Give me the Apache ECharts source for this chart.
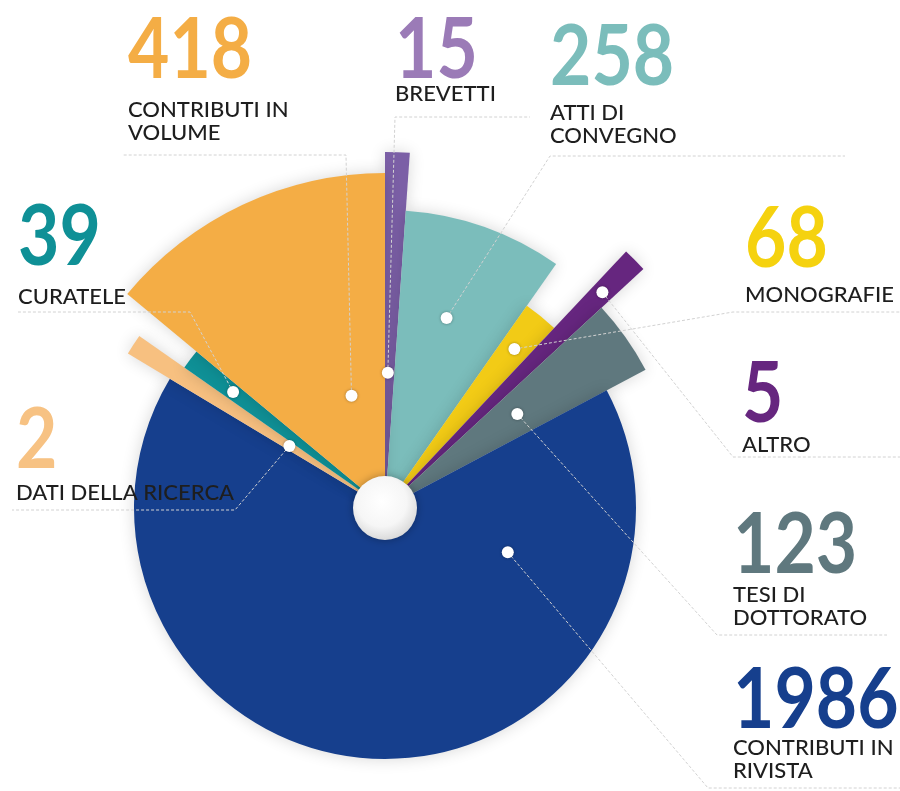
<!DOCTYPE html>
<html>
<head>
<meta charset="utf-8">
<script src="https://cdn.jsdelivr.net/npm/echarts@6/dist/echarts.min.js"></script>
<style>
  html, body { margin: 0; padding: 0; background: #fff; }
  #chart { width: 900px; height: 791px; }
</style>
</head>
<body>
<div id="chart"></div>
<script>
// Data, clockwise from 12 o'clock
const categories = ['BREVETTI', 'ATTI DI\nCONVEGNO', 'MONOGRAFIE', 'ALTRO', 'TESI DI\nDOTTORATO',
  'CONTRIBUTI IN\nRIVISTA', 'DATI DELLA RICERCA', 'CURATELE', 'CONTRIBUTI IN\nVOLUME'];
const counts = [15, 258, 68, 5, 123, 1986, 2, 39, 418];

// Styling / layout only
const sliceColors = ['#7B5FA6', '#7BBDBB', '#F2CB16', '#66267F', '#5F787E', '#163F8D', '#F7C080', '#0F9096', '#F4AD45'];
const numColors = ['#9B7BB7', '#7BBDBB', '#F5D20F', '#66267F', '#5F787E', '#163F8D', '#F7C283', '#0F9096', '#F4AD45'];
const sliceRadius = [356, 298, 247, 352, 295, 251, 300, 245, 335];
const dotAt = [[0.3, 0.38], [0.45, 0.67], [0.5, 0.83], [0.5, 0.87], [0.5, 0.55], [0.2, 0.52], [0.5, 0.38], [0.5, 0.78], [0.67, 0.35]];
// [x, capTop of number, capTop of name]
const labelBox = [[395, 18, 84], [550, 25, 103], [745, 207, 285], [742, 362, 435], [733, 513, 585],
  [733, 668, 738], [16, 408, 483], [18, 205, 287], [128, 18, 100]];
// [elbowX, elbowY, endX]
const leader = [[395, 117, 530], [550, 156, 845], [733, 312, 900], [733, 457, 900], [717, 635, 887],
  [708, 788, 900], [235, 510, 12], [190, 312, 18], [346, 155, 122]];
const center = [385, 508];

const chart = echarts.init(document.getElementById('chart'));

// one pie per slice so every slice can have its own radius; all share the same angles
const series = categories.map((name, i) => ({
  type: 'pie',
  center: center,
  radius: [0, sliceRadius[i]],
  startAngle: 90,
  clockwise: true,
  minAngle: 4,
  avoidLabelOverlap: false,
  silent: true,
  label: { show: false },
  labelLine: { show: false },
  z: 2,
  data: counts.map((v, j) => ({
    value: v,
    name: categories[j],
    itemStyle: j === i
      ? { color: sliceColors[i], shadowBlur: 16, shadowColor: 'rgba(0,0,0,0.16)' }
      : { color: 'transparent' }
  }))
}));

chart.setOption({
  backgroundColor: '#fff',
  animation: false,
  series: series
});

// annotations placed from the pie layout computed by ECharts
const model = chart.getModel();
const graphics = [];
categories.forEach((name, i) => {
  const lay = model.getSeriesByIndex(i).getData().getItemLayout(i);
  const a = lay.startAngle + (lay.endAngle - lay.startAngle) * dotAt[i][0];
  const d = lay.r * dotAt[i][1];
  const px = lay.cx + Math.cos(a) * d;
  const py = lay.cy + Math.sin(a) * d;
  const [ex, ey, endX] = leader[i];

  graphics.push({
    type: 'polyline', z: 10, silent: true,
    shape: { points: [[px, py], [ex, ey], [endX, ey]] },
    style: { stroke: '#d2d2d2', lineWidth: 1, lineDash: [3, 2], fill: null }
  });
  graphics.push({
    type: 'circle', z: 11, silent: true,
    shape: { cx: px, cy: py, r: 6 },
    style: { fill: '#fff', shadowBlur: 3, shadowColor: 'rgba(0,0,0,0.35)' }
  });

  const [lx, numTop, nameTop] = labelBox[i];
  graphics.push({
    type: 'text', z: 12, silent: true,
    x: lx, y: numTop - 9, scaleX: 0.85,
    style: { text: String(counts[i]), font: 'bold 84px Lato', fill: numColors[i], verticalAlign: 'top' }
  });
  graphics.push({
    type: 'text', z: 12, silent: true,
    x: lx, y: nameTop - 2,
    style: { text: name, font: '500 22px Lato', fill: '#1e1e1e', lineHeight: 23, verticalAlign: 'top' }
  });
});

// white ball at the centre
graphics.push({
  type: 'circle', z: 20, silent: true,
  shape: { cx: center[0], cy: center[1], r: 32 },
  style: {
    fill: new echarts.graphic.RadialGradient(0.45, 0.4, 0.65, [
      { offset: 0, color: '#ffffff' },
      { offset: 0.6, color: '#f6f6f6' },
      { offset: 1, color: '#d4d4d4' }
    ]),
    shadowBlur: 8, shadowColor: 'rgba(0,0,0,0.3)'
  }
});

chart.setOption({ graphic: graphics });
</script>
</body>
</html>
